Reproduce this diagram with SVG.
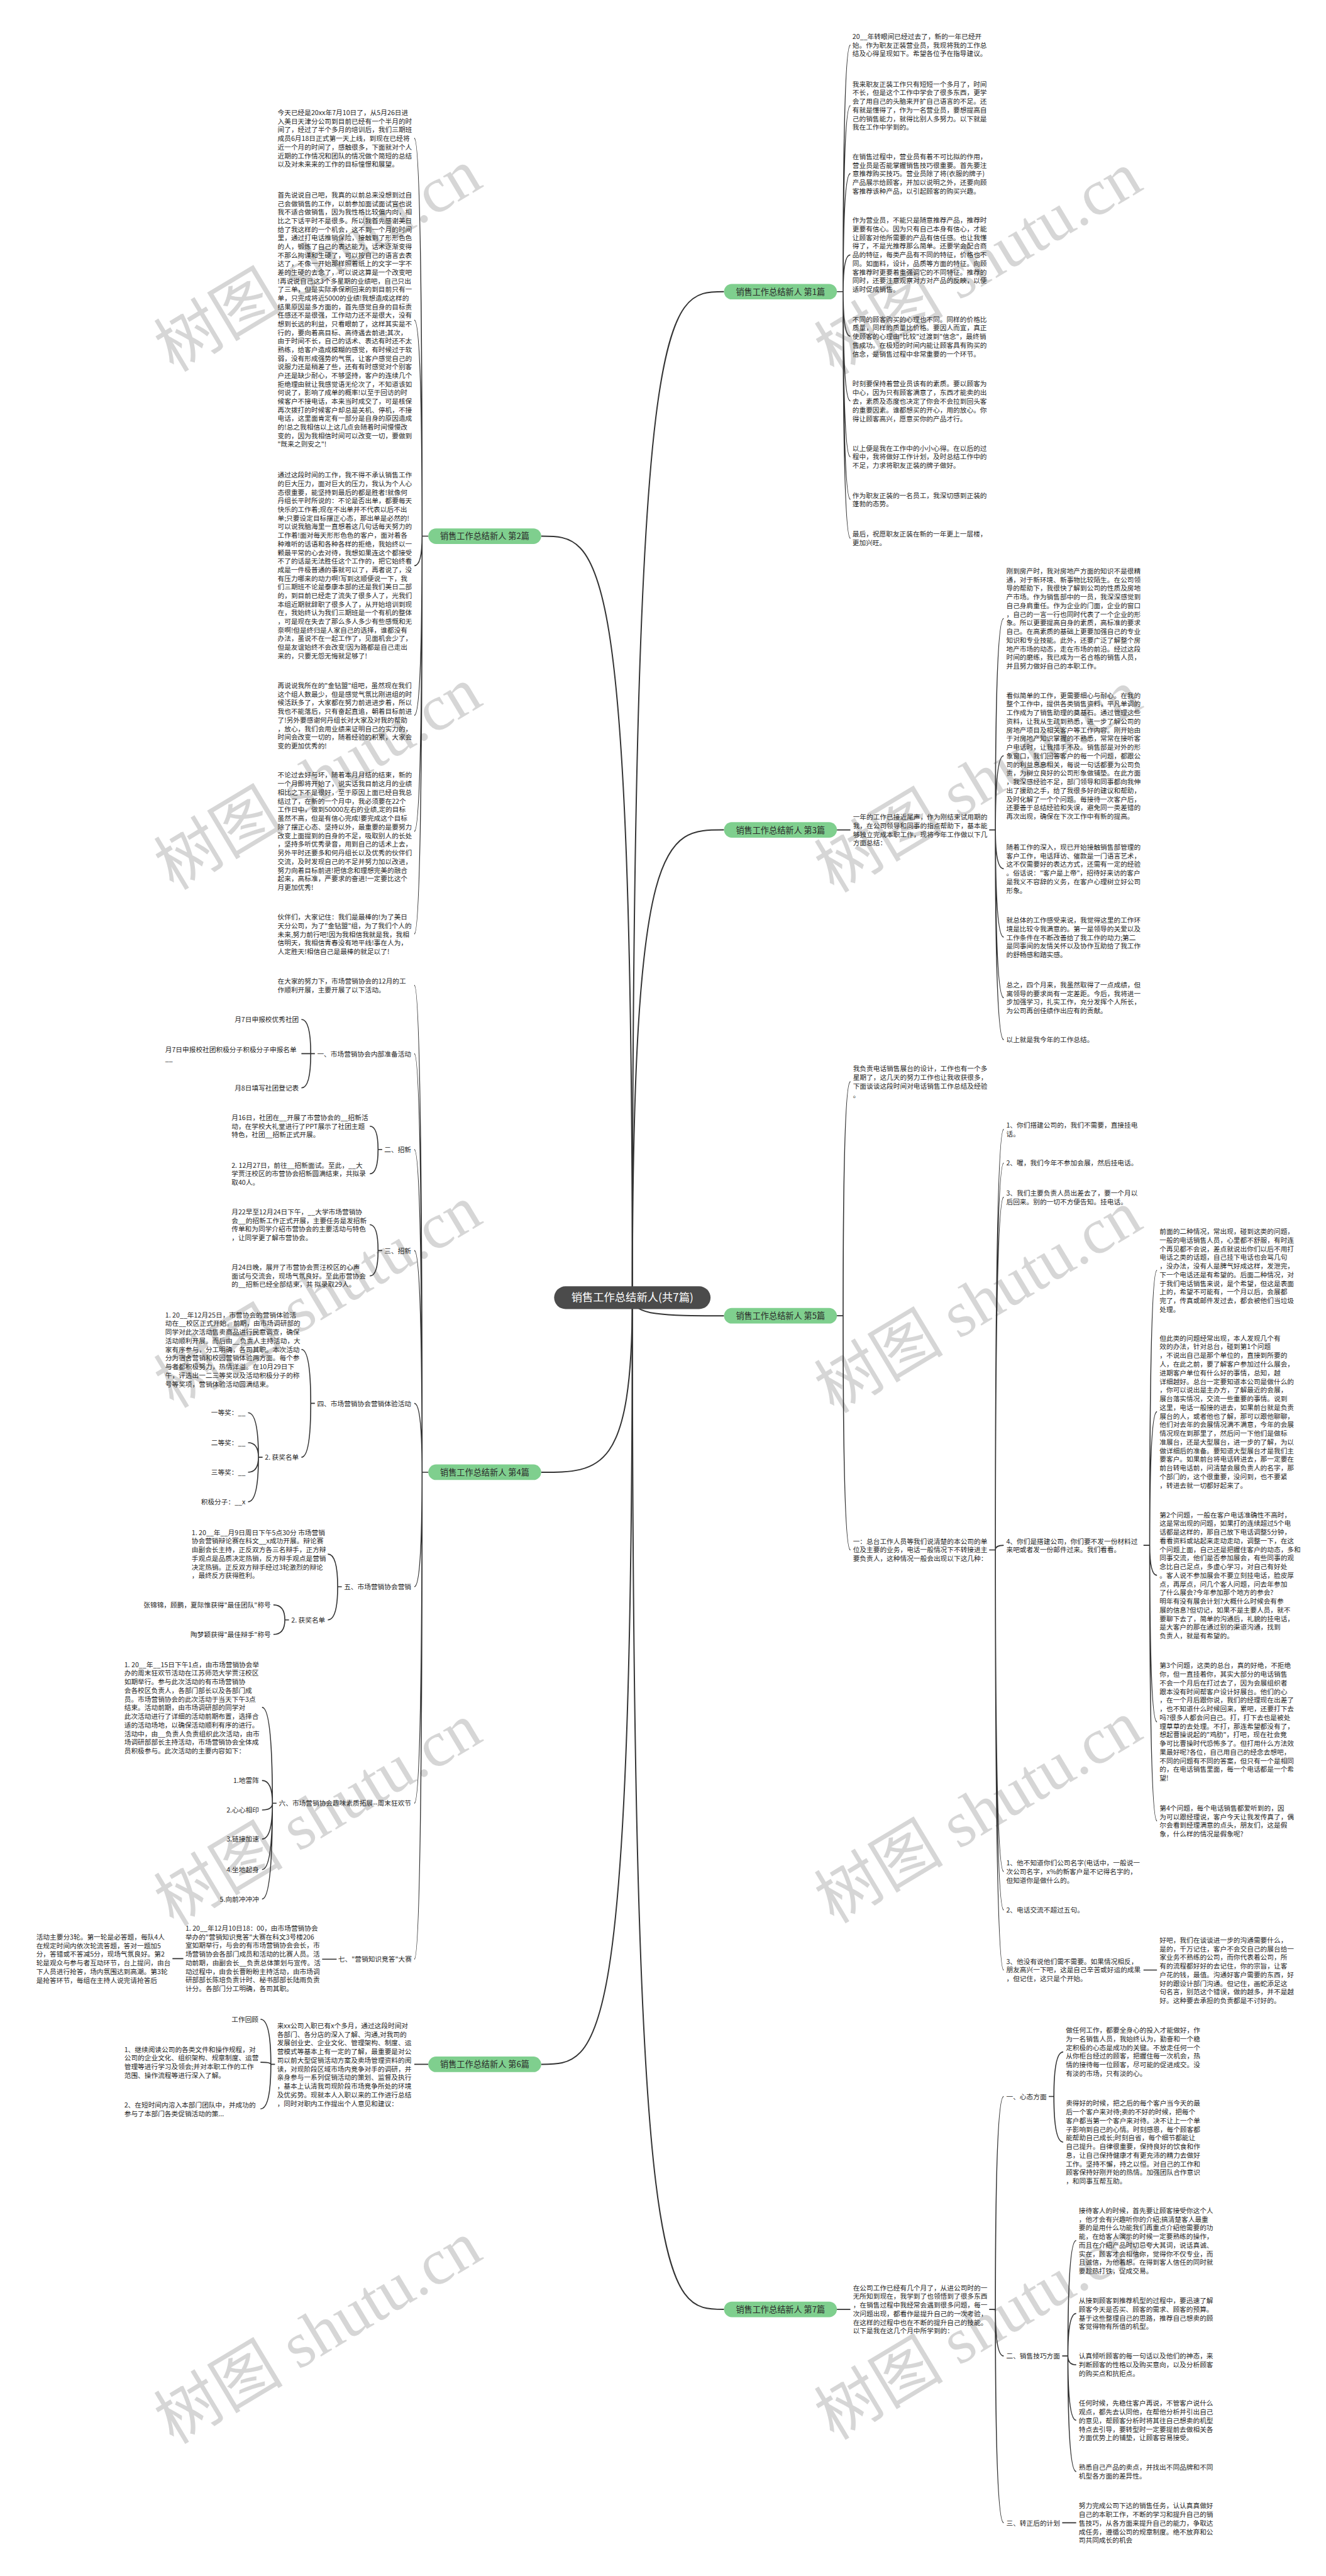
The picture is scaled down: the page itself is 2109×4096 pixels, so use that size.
<svg xmlns="http://www.w3.org/2000/svg" width="2109" height="4096" viewBox="0 0 2109 4096">
<style>
.t{font-family:"Noto Sans CJK SC","Liberation Sans",sans-serif;font-size:13px;fill:#262626}
.e{text-anchor:end}
.n{font-family:"Noto Sans CJK SC","Liberation Sans",sans-serif;font-size:16px;fill:#2a2a2a;text-anchor:middle}
.c{font-family:"Noto Sans CJK SC","Liberation Sans",sans-serif;font-size:21px;fill:#ffffff;text-anchor:middle}
.pill{fill:#7fcf8e}
.ln{fill:none;stroke:#333333;stroke-width:2}
.mn{fill:none;stroke:#333333;stroke-width:2.4}
.wm{font-family:"Liberation Serif","Noto Sans CJK SC",serif;font-size:125px;fill:#d6d6d6}
</style>
<rect width="2109" height="4096" fill="#ffffff"/>
<g transform="scale(0.8237)">
<g id="watermarks">
<text class="wm" transform="translate(335,720) rotate(-31)">树图 shutu.cn</text>
<text class="wm" transform="translate(335,1720) rotate(-31)">树图 shutu.cn</text>
<text class="wm" transform="translate(335,2720) rotate(-31)">树图 shutu.cn</text>
<text class="wm" transform="translate(335,3720) rotate(-31)">树图 shutu.cn</text>
<text class="wm" transform="translate(335,4720) rotate(-31)">树图 shutu.cn</text>
<text class="wm" transform="translate(1610,725) rotate(-31)">树图 shutu.cn</text>
<text class="wm" transform="translate(1610,1725) rotate(-31)">树图 shutu.cn</text>
<text class="wm" transform="translate(1610,2730) rotate(-31)">树图 shutu.cn</text>
<text class="wm" transform="translate(1610,3715) rotate(-31)">树图 shutu.cn</text>
<text class="wm" transform="translate(1610,4712) rotate(-31)">树图 shutu.cn</text>
</g>
<g id="connectors">
<path class="mn" d="M1221 2505C1221 563 1283 563 1398 563"/>
<path class="mn" d="M1221 2505C1221 1602 1283 1602 1398 1602"/>
<path class="mn" d="M1221 2505C1221 2540 1283 2540 1398 2540"/>
<path class="mn" d="M1221 2505C1221 4458 1283 4458 1398 4458"/>
<path class="mn" d="M1221 2505C1221 1035 1159 1035 1045 1035"/>
<path class="mn" d="M1221 2505C1221 2842 1159 2842 1045 2842"/>
<path class="mn" d="M1221 2505C1221 3985 1159 3985 1045 3985"/>
<path class="ln" d="M1616 563H1628M1628 563Q1628 87 1642 87M1628 563Q1628 204 1642 204M1628 563Q1628 335 1642 335M1628 563Q1628 492 1642 492M1628 563Q1628 649 1642 649M1628 563Q1628 774 1642 774M1628 563Q1628 882 1642 882M1628 563Q1628 964 1642 964M1628 563Q1628 1039 1642 1039"/>
<path class="ln" d="M1616 1602H1642M1910 1602H1922M1922 1602Q1922 1194 1938 1194M1922 1602Q1922 1459 1938 1459M1922 1602Q1922 1677 1938 1677M1922 1602Q1922 1809 1938 1809M1922 1602Q1922 1926 1938 1926M1922 1602Q1922 2007 1938 2007"/>
<path class="ln" d="M1616 2540H1628M1628 2540Q1628 2088 1642 2088M1628 2540Q1628 2992 1642 2992"/>
<path class="ln" d="M1910 2992H1922M1922 2992Q1922 2180 1938 2180M1922 2992Q1922 2245 1938 2245M1922 2992Q1922 2311 1938 2311M1922 2992Q1922 2983 1938 2983M1922 2992Q1922 3613 1938 3613M1922 2992Q1922 3687 1938 3687M1922 2992Q1922 3803 1938 3803"/>
<path class="ln" d="M2208 2983H2220M2220 2983Q2220 2452 2234 2452M2220 2983Q2220 2725 2234 2725M2220 2983Q2220 3041 2234 3041M2220 2983Q2220 3324 2234 3324M2220 2983Q2220 3515 2234 3515M2208 3803H2234"/>
<path class="ln" d="M1616 4458H1642M1910 4458H1922M1922 4458Q1922 4047 1938 4047M1922 4458Q1922 4548 1938 4548M1922 4458Q1922 4870 1938 4870"/>
<path class="ln" d="M2025 4047H2035M2035 4047Q2035 3961 2053 3961M2035 4047Q2035 4135 2053 4135M2051 4548H2062M2062 4548Q2062 4325 2078 4325M2062 4548Q2062 4466 2078 4466M2062 4548Q2062 4565 2078 4565M2062 4548Q2062 4672 2078 4672M2062 4548Q2062 4771 2078 4771M2051 4870H2078"/>
<path class="ln" d="M827 1035H815M815 1035Q815 267 800 267M815 1035Q815 618 800 618M815 1035Q815 1092 800 1092M815 1035Q815 1381 800 1381M815 1035Q815 1605 800 1605M815 1035Q815 1803 800 1803"/>
<path class="ln" d="M827 2842H815M815 2842Q815 1902 800 1902M815 2842Q815 2034 800 2034M815 2842Q815 2219 800 2219M815 2842Q815 2414 800 2414M815 2842Q815 2709 800 2709M815 2842Q815 3063 800 3063M815 2842Q815 3481 800 3481M815 2842Q815 3782 800 3782"/>
<path class="ln" d="M608 2034H600M600 2034Q600 1968 582 1968M600 2034H582M600 2034Q600 2100 582 2100M738 2219H730M730 2219Q730 2174 714 2174M730 2219Q730 2266 714 2266M738 2414H730M730 2414Q730 2364 714 2364M730 2414Q730 2463 714 2463"/>
<path class="ln" d="M608 2709H600M600 2709Q600 2605 582 2605M600 2709Q600 2813 582 2813M507 2813H499M499 2813Q499 2727 479 2727M499 2813Q499 2785 479 2785M499 2813Q499 2842 479 2842M499 2813Q499 2899 479 2899"/>
<path class="ln" d="M660 3063H652M652 3063Q652 3000 633 3000M652 3063Q652 3127 633 3127M558 3127H550M550 3127Q550 3098 528 3098M550 3127Q550 3155 528 3155"/>
<path class="ln" d="M534 3481H526M526 3481Q526 3296 506 3296M526 3481Q526 3437 506 3437M526 3481Q526 3494 506 3494M526 3481Q526 3550 506 3550M526 3481Q526 3609 506 3609M526 3481Q526 3666 506 3666M650 3782H622M354 3781H333"/>
<path class="ln" d="M827 3985H800M531 3985H523M523 3985Q523 3898 503 3898M523 3985Q523 3981 503 3981M523 3985Q523 4071 503 4071"/>
</g>
<g id="center">
<rect x="1070" y="2483" width="302" height="44" rx="22" fill="#4b4b4b"/>
<text class="c" x="1221" y="2512">销售工作总结新人(共7篇)</text>
</g>
<g id="b1">
<rect class="pill" x="1398" y="548" width="218" height="30" rx="15"/>
<text class="n" x="1507" y="569">销售工作总结新人 第1篇</text>
<text class="t" x="1646" y="75"><tspan x="1646">20__年转眼间已经过去了，新的一年已经开</tspan><tspan x="1646" dy="16.7">始。作为职友正装营业员，我现将我的工作总</tspan><tspan x="1646" dy="16.7">结及心得呈现如下。希望各位予在指导建议。</tspan></text>
<text class="t" x="1646" y="167"><tspan x="1646">我来职友正装工作只有短短一个多月了，时间</tspan><tspan x="1646" dy="16.7">不长，但是这个工作中学会了很多东西，更学</tspan><tspan x="1646" dy="16.7">会了用自己的头脑来开扩自己语言的不足。还</tspan><tspan x="1646" dy="16.7">有就是懂得了，作为一名营业员，要想提高自</tspan><tspan x="1646" dy="16.7">己的销售能力，就得比别人多努力。以下就是</tspan><tspan x="1646" dy="16.7">我在工作中学到的。</tspan></text>
<text class="t" x="1646" y="307"><tspan x="1646">在销售过程中，营业员有着不可比拟的作用，</tspan><tspan x="1646" dy="16.7">营业员是否能掌握销售技巧很重要。首先要注</tspan><tspan x="1646" dy="16.7">意推荐购买技巧。营业员除了将(衣服的牌子)</tspan><tspan x="1646" dy="16.7">产品展示给顾客，并加以说明之外，还要向顾</tspan><tspan x="1646" dy="16.7">客推荐该种产品，以引起顾客的购买兴趣。</tspan></text>
<text class="t" x="1646" y="430"><tspan x="1646">作为营业员，不能只是随意推荐产品，推荐时</tspan><tspan x="1646" dy="16.7">更要有信心。因为只有自己本身有信心，才能</tspan><tspan x="1646" dy="16.7">让顾客对他所需要的产品有信任感。也让我懂</tspan><tspan x="1646" dy="16.7">得了，不是光推荐那么简单。还要学会配合商</tspan><tspan x="1646" dy="16.7">品的特征，每类产品有不同的特征，价格也不</tspan><tspan x="1646" dy="16.7">同。如面料，设计，品质等方面的特征。向顾</tspan><tspan x="1646" dy="16.7">客推荐时更要着重强调它的不同特征。推荐的</tspan><tspan x="1646" dy="16.7">同时，还要注意观察对方对产品的反映，以便</tspan><tspan x="1646" dy="16.7">适时促成销售。</tspan></text>
<text class="t" x="1646" y="621"><tspan x="1646">不同的顾客购买的心理也不同。同样的价格比</tspan><tspan x="1646" dy="16.7">质量，同样的质量比价格。要因人而宜，真正</tspan><tspan x="1646" dy="16.7">使顾客的心理由"比较"过渡到"信念"，最终销</tspan><tspan x="1646" dy="16.7">售成功。在极短的时间内能让顾客具有购买的</tspan><tspan x="1646" dy="16.7">信念，是销售过程中非常重要的一个环节。</tspan></text>
<text class="t" x="1646" y="746"><tspan x="1646">时刻要保持着营业员该有的素质。要以顾客为</tspan><tspan x="1646" dy="16.7">中心，因为只有顾客满意了，东西才能卖的出</tspan><tspan x="1646" dy="16.7">去，素质及态度也决定了你会不会拉到回头客</tspan><tspan x="1646" dy="16.7">的重要因素。谁都想买的开心，用的放心。你</tspan><tspan x="1646" dy="16.7">得让顾客高兴，愿意买你的产品才行。</tspan></text>
<text class="t" x="1646" y="870"><tspan x="1646">以上便是我在工作中的小小心得。在以后的过</tspan><tspan x="1646" dy="16.7">程中，我将做好工作计划，及时总结工作中的</tspan><tspan x="1646" dy="16.7">不足，力求将职友正装的牌子做好。</tspan></text>
<text class="t" x="1646" y="961"><tspan x="1646">作为职友正装的一名员工，我深切感到正装的</tspan><tspan x="1646" dy="16.7">蓬勃的态势。</tspan></text>
<text class="t" x="1646" y="1036"><tspan x="1646">最后，祝愿职友正装在新的一年更上一层楼，</tspan><tspan x="1646" dy="16.7">更加兴旺。</tspan></text>
</g>
<g id="b3">
<rect class="pill" x="1398" y="1587" width="218" height="30" rx="15"/>
<text class="n" x="1507" y="1608">销售工作总结新人 第3篇</text>
<text class="t" x="1647" y="1582"><tspan x="1647">一年的工作已接近尾声，作为刚结束试用期的</tspan><tspan x="1647" dy="16.7">我，在公司领导和同事的指点帮助下，基本能</tspan><tspan x="1647" dy="16.7">够独立完成本职工作，现将今年工作做以下几</tspan><tspan x="1647" dy="16.7">方面总结：</tspan></text>
<text class="t" x="1943" y="1107"><tspan x="1943">刚到房产时，我对房地产方面的知识不是很精</tspan><tspan x="1943" dy="16.7">通，对于新环境、新事物比较陌生。在公司领</tspan><tspan x="1943" dy="16.7">导的帮助下，我很快了解到公司的性质及房地</tspan><tspan x="1943" dy="16.7">产市场。作为销售部中的一员，我深深感觉到</tspan><tspan x="1943" dy="16.7">自己身肩重任。作为企业的门面，企业的窗口</tspan><tspan x="1943" dy="16.7">，自己的一言一行也同时代表了一个企业的形</tspan><tspan x="1943" dy="16.7">象。所以更要提高自身的素质，高标准的要求</tspan><tspan x="1943" dy="16.7">自己。在高素质的基础上更要加强自己的专业</tspan><tspan x="1943" dy="16.7">知识和专业技能。此外，还要广泛了解整个房</tspan><tspan x="1943" dy="16.7">地产市场的动态，走在市场的前沿。经过这段</tspan><tspan x="1943" dy="16.7">时间的磨练，我已成为一名合格的销售人员，</tspan><tspan x="1943" dy="16.7">并且努力做好自己的本职工作。</tspan></text>
<text class="t" x="1943" y="1347"><tspan x="1943">看似简单的工作，更需要细心与耐心。在我的</tspan><tspan x="1943" dy="16.7">整个工作中，提供各类销售资料，平凡单调的</tspan><tspan x="1943" dy="16.7">工作成为了销售助理的奠基石。通过管理这些</tspan><tspan x="1943" dy="16.7">资料，让我从生疏到熟悉，进一步了解公司的</tspan><tspan x="1943" dy="16.7">房地产项目及相关客户等工作内容。刚开始由</tspan><tspan x="1943" dy="16.7">于对房地产知识掌握的不熟悉，常常在接听客</tspan><tspan x="1943" dy="16.7">户电话时，让我措手不及。销售部是对外的形</tspan><tspan x="1943" dy="16.7">象窗口，我们回答客户的每一个问题，都跟公</tspan><tspan x="1943" dy="16.7">司的利益息息相关，每说一句话都要为公司负</tspan><tspan x="1943" dy="16.7">责，为树立良好的公司形象做铺垫。在此方面</tspan><tspan x="1943" dy="16.7">，我深感经验不足，部门领导和同事都向我伸</tspan><tspan x="1943" dy="16.7">出了援助之手，给了我很多好的建议和帮助，</tspan><tspan x="1943" dy="16.7">及时化解了一个个问题。每接待一次客户后，</tspan><tspan x="1943" dy="16.7">还要善于总结经验和失误，避免同一类差错的</tspan><tspan x="1943" dy="16.7">再次出现，确保在下次工作中有新的提高。</tspan></text>
<text class="t" x="1943" y="1640"><tspan x="1943">随着工作的深入，现已开始接触销售部管理的</tspan><tspan x="1943" dy="16.7">客户工作，电话拜访、催款是一门语言艺术，</tspan><tspan x="1943" dy="16.7">这不仅需要好的表达方式，还需有一定的经验</tspan><tspan x="1943" dy="16.7">。俗话说："客户是上帝"，招待好来访的客户</tspan><tspan x="1943" dy="16.7">是我义不容辞的义务，在客户心理树立好公司</tspan><tspan x="1943" dy="16.7">形象。</tspan></text>
<text class="t" x="1943" y="1781"><tspan x="1943">就总体的工作感受来说，我觉得这里的工作环</tspan><tspan x="1943" dy="16.7">境是比较令我满意的。第一是领导的关爱以及</tspan><tspan x="1943" dy="16.7">工作条件在不断改善给了我工作的动力;第二</tspan><tspan x="1943" dy="16.7">是同事间的友情关怀以及协作互助给了我工作</tspan><tspan x="1943" dy="16.7">的舒畅感和踏实感。</tspan></text>
<text class="t" x="1943" y="1906"><tspan x="1943">总之，四个月来，我虽然取得了一点成绩，但</tspan><tspan x="1943" dy="16.7">离领导的要求尚有一定差距。今后，我将进一</tspan><tspan x="1943" dy="16.7">步加强学习，扎实工作，充分发挥个人所长，</tspan><tspan x="1943" dy="16.7">为公司再创佳绩作出应有的贡献。</tspan></text>
<text class="t" x="1943" y="2012">以上就是我今年的工作总结。</text>
</g>
<g id="b5">
<rect class="pill" x="1398" y="2525" width="218" height="30" rx="15"/>
<text class="n" x="1507" y="2546">销售工作总结新人 第5篇</text>
<text class="t" x="1647" y="2068"><tspan x="1647">我负责电话销售展台的设计，工作也有一个多</tspan><tspan x="1647" dy="16.7">星期了，这几天的努力工作也让我收获很多，</tspan><tspan x="1647" dy="16.7">下面谈谈这段时间对电话销售工作总结及经验</tspan><tspan x="1647" dy="16.7">。</tspan></text>
<text class="t" x="1647" y="2980"><tspan x="1647">一：总台工作人员等我们说清楚的本公司的单</tspan><tspan x="1647" dy="16.7">位及主要的业务，电话一般情况下不转接进主</tspan><tspan x="1647" dy="16.7">要负责人，这种情况一般会出现以下这几种：</tspan></text>
<text class="t" x="1943" y="2177"><tspan x="1943">1、你们搭建公司的，我们不需要，直接挂电</tspan><tspan x="1943" dy="16.7">话。</tspan></text>
<text class="t" x="1943" y="2250">2、喔，我们今年不参加会展，然后挂电话。</text>
<text class="t" x="1943" y="2308"><tspan x="1943">3、我们主要负责人员出差去了，要一个月以</tspan><tspan x="1943" dy="16.7">后回来。别的一切不方便告知。挂电话。</tspan></text>
<text class="t" x="1943" y="2980"><tspan x="1943">4、你们是搭建公司，你们要不发一份材料过</tspan><tspan x="1943" dy="16.7">来吧或者发一份邮件过来。我们看看。</tspan></text>
<text class="t" x="1943" y="3601"><tspan x="1943">1、他不知道你们公司名字(电话中，一般说一</tspan><tspan x="1943" dy="16.7">次公司名字，x%的新客户是不记得名字的，</tspan><tspan x="1943" dy="16.7">但知道你是做什么的。</tspan></text>
<text class="t" x="1943" y="3692">2、电话交流不超过五句。</text>
<text class="t" x="1943" y="3791"><tspan x="1943">3、他没有说他们需不需要。如果情况相反，</tspan><tspan x="1943" dy="16.7">朋友高兴一下吧，这是自己辛苦或好运的成果</tspan><tspan x="1943" dy="16.7">，但记住，这只是个开始。</tspan></text>
<text class="t" x="2239" y="2382"><tspan x="2239">前面的二种情况，常出现，碰到这类的问题，</tspan><tspan x="2239" dy="16.7">一般的电话销售人员，心里都不舒服，有时连</tspan><tspan x="2239" dy="16.7">个再见都不会说，差点就说出你们以后不用打</tspan><tspan x="2239" dy="16.7">电话之类的话题，自己挂下电话也会骂几句</tspan><tspan x="2239" dy="16.7">，没办法，没有人是脾气好成这样，发泄完，</tspan><tspan x="2239" dy="16.7">下一个电话还是有希望的。后面二种情况，对</tspan><tspan x="2239" dy="16.7">于我们电话销售来说，是个希望，但这是表面</tspan><tspan x="2239" dy="16.7">上的，希望不可能有，一个月以后，会展都</tspan><tspan x="2239" dy="16.7">完了，传真或邮件发过去，都会被他们当垃圾</tspan><tspan x="2239" dy="16.7">处理。</tspan></text>
<text class="t" x="2239" y="2588"><tspan x="2239">但此类的问题经常出现，本人发现几个有</tspan><tspan x="2239" dy="16.7">效的办法，针对总台，碰到第1个问题</tspan><tspan x="2239" dy="16.7">，不说出自己是那个单位的，直接到所要的</tspan><tspan x="2239" dy="16.7">人，在此之前，要了解客户参加过什么展会，</tspan><tspan x="2239" dy="16.7">进期客户单位有什么好的事情，总知，越</tspan><tspan x="2239" dy="16.7">详细越好。总台一定要知道本公司是做什么的</tspan><tspan x="2239" dy="16.7">，你可以说出是主办方，了解最近的会展，</tspan><tspan x="2239" dy="16.7">展台落实情况，交流一些重要的事情。说到</tspan><tspan x="2239" dy="16.7">这里，电话一般接的进去，如果前台就是负责</tspan><tspan x="2239" dy="16.7">展台的人，或者他也了解，那可以跟他聊聊，</tspan><tspan x="2239" dy="16.7">他们对去年的会展情况满不满意，今年的会展</tspan><tspan x="2239" dy="16.7">情况现在到那里了，然后问一下他们是做标</tspan><tspan x="2239" dy="16.7">准展台，还是大型展台，进一步的了解，为以</tspan><tspan x="2239" dy="16.7">做详细后的准备。要知道大型展台才是我们主</tspan><tspan x="2239" dy="16.7">要客户。如果前台将电话转进去，那一定要在</tspan><tspan x="2239" dy="16.7">前台转电话前，问清楚会展负责人的名字，那</tspan><tspan x="2239" dy="16.7">个部门的，这个很重要，没问到，也不要紧</tspan><tspan x="2239" dy="16.7">，转进去就一切都好起来了。</tspan></text>
<text class="t" x="2239" y="2929"><tspan x="2239">第2个问题，一般在客户电话准确性不高时，</tspan><tspan x="2239" dy="16.7">这是常出现的问题，如果打的连续超过5个电</tspan><tspan x="2239" dy="16.7">话都是这样的，那自己放下电话调整5分钟，</tspan><tspan x="2239" dy="16.7">看看资料或站起来走动走动，调整一下，在这</tspan><tspan x="2239" dy="16.7">个问题上面，自己还是把握住客户的动态，多和</tspan><tspan x="2239" dy="16.7">同事交流，他们是否参加展会，有些同事的观</tspan><tspan x="2239" dy="16.7">念比自己足点，多虚心学习，对自己有好处</tspan><tspan x="2239" dy="16.7">。客人说不参加展会不要立刻挂电话，脸皮厚</tspan><tspan x="2239" dy="16.7">点，再厚点，问几个客人问题，问去年参加</tspan><tspan x="2239" dy="16.7">了什么展会?今年参加那个地方的参会?</tspan><tspan x="2239" dy="16.7">明年有没有展会计划?大概什么时候会有参</tspan><tspan x="2239" dy="16.7">展的信息?但切记，如果不是主要人员，就不</tspan><tspan x="2239" dy="16.7">要聊下去了，简单的沟通后，礼貌的挂电话，</tspan><tspan x="2239" dy="16.7">是大客户的那在通过别的渠道沟通，找到</tspan><tspan x="2239" dy="16.7">负责人，就是有希望的。</tspan></text>
<text class="t" x="2239" y="3220"><tspan x="2239">第3个问题，这类的总台，真的好绝，不拒绝</tspan><tspan x="2239" dy="16.7">你，但一直挂着你，其实大部分的电话销售</tspan><tspan x="2239" dy="16.7">不会一个月后在打过去了，因为会展组织者</tspan><tspan x="2239" dy="16.7">跟本没有时间帮客户设计好展台。他们的心</tspan><tspan x="2239" dy="16.7">，在一个月后跟你说，我们的经理现在出差了</tspan><tspan x="2239" dy="16.7">，也不知道什么时候回来，累吧，还要打下去</tspan><tspan x="2239" dy="16.7">吗?很多人都会问自己。打，打下去也是被处</tspan><tspan x="2239" dy="16.7">理草草的去处理。不打，那连希望都没有了，</tspan><tspan x="2239" dy="16.7">想起曹操说起的"鸡肋"，打吧，现在社会竞</tspan><tspan x="2239" dy="16.7">争可比曹操时代恐怖多了。但打用什么方法效</tspan><tspan x="2239" dy="16.7">果最好呢?各位，自己用自己的经念去想吧，</tspan><tspan x="2239" dy="16.7">不同的问题有不同的答案，但只有一个是相同</tspan><tspan x="2239" dy="16.7">的，在电话销售里面，每一个电话都是一个希</tspan><tspan x="2239" dy="16.7">望!</tspan></text>
<text class="t" x="2239" y="3495"><tspan x="2239">第4个问题，每个电话销售都爱听到的，因</tspan><tspan x="2239" dy="16.7">为可以跟经理说，客户今天让我发传真了，偶</tspan><tspan x="2239" dy="16.7">尔会看到经理满意的点头，朋友们，这是假</tspan><tspan x="2239" dy="16.7">象，什么样的情况是假象呢?</tspan></text>
<text class="t" x="2239" y="3750"><tspan x="2239">好吧，我们在谈谈进一步的沟通需要什么，</tspan><tspan x="2239" dy="16.7">是的，千万记住，客户不会交自己的展台给一</tspan><tspan x="2239" dy="16.7">家业务不熟练的公司，而你代表着公司，所</tspan><tspan x="2239" dy="16.7">有的流程都好好的去记住，你的宗旨，让客</tspan><tspan x="2239" dy="16.7">户花的钱，最值。沟通好客户需要的东西，好</tspan><tspan x="2239" dy="16.7">好的跟设计部门沟通。但记住，画蛇添足这</tspan><tspan x="2239" dy="16.7">句名言，别范这个错误，做的越多，并不是越</tspan><tspan x="2239" dy="16.7">好。这种要去承担的负责都是不讨好的。</tspan></text>
</g>
<g id="b7">
<rect class="pill" x="1398" y="4443" width="218" height="30" rx="15"/>
<text class="n" x="1507" y="4464">销售工作总结新人 第7篇</text>
<text class="t" x="1647" y="4421"><tspan x="1647">在公司工作已经有几个月了，从进公司时的一</tspan><tspan x="1647" dy="16.7">无所知到现在，我学到了也领悟到了很多东西</tspan><tspan x="1647" dy="16.7">，在销售过程中我经常会遇到很多问题，每一</tspan><tspan x="1647" dy="16.7">次问题出现，都看作是提升自己的一次考验，</tspan><tspan x="1647" dy="16.7">在这样的过程中也在不断的提升自己的技能。</tspan><tspan x="1647" dy="16.7">以下是我在这几个月中所学到的：</tspan></text>
<text class="t" x="1943" y="4052">一、心态方面</text>
<text class="t" x="2058" y="3924"><tspan x="2058">做任何工作，都要全身心的投入才能做好，作</tspan><tspan x="2058" dy="16.7">为一名销售人员，我始终认为，勤奋和一个稳</tspan><tspan x="2058" dy="16.7">定积极的心态是成功的关键。不放走任何一个</tspan><tspan x="2058" dy="16.7">从你柜台经过的顾客，把握住每一次机会，热</tspan><tspan x="2058" dy="16.7">情的接待每一位顾客，尽可能的促进成交。没</tspan><tspan x="2058" dy="16.7">有淡的市场，只有淡的心。</tspan></text>
<text class="t" x="2058" y="4065"><tspan x="2058">卖得好的时候，把之后的每个客户当今天的最</tspan><tspan x="2058" dy="16.7">后一个客户来对待;卖的不好的时候，把每个</tspan><tspan x="2058" dy="16.7">客户都当第一个客户来对待。决不让上一个单</tspan><tspan x="2058" dy="16.7">子影响到自己的心情。时刻感恩，每个顾客都</tspan><tspan x="2058" dy="16.7">能帮助自己成长;时刻自省，每个细节都能让</tspan><tspan x="2058" dy="16.7">自己提升。自律很重要，保持良好的饮食和作</tspan><tspan x="2058" dy="16.7">息，让自己保持健康才有更充沛的精力去做好</tspan><tspan x="2058" dy="16.7">工作。坚持不懈，持之以恒。对自己的工作和</tspan><tspan x="2058" dy="16.7">顾客保持好刚开始的热情。加强团队合作意识</tspan><tspan x="2058" dy="16.7">，和同事互帮互助。</tspan></text>
<text class="t" x="1943" y="4553">二、销售技巧方面</text>
<text class="t" x="2083" y="4272"><tspan x="2083">接待客人的时候，首先要让顾客接受你这个人</tspan><tspan x="2083" dy="16.7">，他才会有兴趣听你的介绍;搞清楚客人最重</tspan><tspan x="2083" dy="16.7">要的是用什么功能我们再重点介绍他需要的功</tspan><tspan x="2083" dy="16.7">能，在给客人演示的时候一定要熟练的操作，</tspan><tspan x="2083" dy="16.7">而且在介绍产品时切忌夸大其词，说话真诚、</tspan><tspan x="2083" dy="16.7">实在，顾客才会相信你，觉得你不仅专业，而</tspan><tspan x="2083" dy="16.7">且诚信，为他着想。在得到客人信任的同时就</tspan><tspan x="2083" dy="16.7">要趁热打铁，促成交易。</tspan></text>
<text class="t" x="2083" y="4446"><tspan x="2083">从接到顾客到推荐机型的过程中，要迅速了解</tspan><tspan x="2083" dy="16.7">顾客今天是否买、顾客的需求、顾客的预算。</tspan><tspan x="2083" dy="16.7">基于这些整理自己的思路，推荐自己想卖的顾</tspan><tspan x="2083" dy="16.7">客觉得物有所值的机型。</tspan></text>
<text class="t" x="2083" y="4553"><tspan x="2083">认真倾听顾客的每一句话以及他们的神态，来</tspan><tspan x="2083" dy="16.7">判断顾客的性格以及购买意向，以及分析顾客</tspan><tspan x="2083" dy="16.7">的购买点和抗拒点。</tspan></text>
<text class="t" x="2083" y="4644"><tspan x="2083">任何时候，先稳住客户再说，不管客户说什么</tspan><tspan x="2083" dy="16.7">观点，都先去认同他，在帮他分析并引出自己</tspan><tspan x="2083" dy="16.7">的意见，帮顾客分析时将其往自己想卖的机型</tspan><tspan x="2083" dy="16.7">特点去引导，要转型时一定要提前去做相关各</tspan><tspan x="2083" dy="16.7">方面优势上的铺垫，让顾客容易接受。</tspan></text>
<text class="t" x="2083" y="4768"><tspan x="2083">熟悉自己产品的卖点，并找出不同品牌和不同</tspan><tspan x="2083" dy="16.7">机型各方面的差异性。</tspan></text>
<text class="t" x="1943" y="4875">三、转正后的计划</text>
<text class="t" x="2083" y="4842"><tspan x="2083">努力完成公司下达的销售任务，认认真真做好</tspan><tspan x="2083" dy="16.7">自己的本职工作，不断的学习和提升自己的销</tspan><tspan x="2083" dy="16.7">售技巧，从各方面来提升自己的能力，争取达</tspan><tspan x="2083" dy="16.7">成任务，遵循公司的规章制度。绝不放弃和公</tspan><tspan x="2083" dy="16.7">司共同成长的机会</tspan></text>
</g>
<g id="b2">
<rect class="pill" x="827" y="1020" width="218" height="30" rx="15"/>
<text class="n" x="936" y="1041">销售工作总结新人 第2篇</text>
<text class="t" x="536" y="222"><tspan x="536">今天已经是20xx年7月10日了，从5月26日进</tspan><tspan x="536" dy="16.7">入美日天津分公司到目前已经有一个半月的时</tspan><tspan x="536" dy="16.7">间了，经过了半个多月的培训后，我们三期班</tspan><tspan x="536" dy="16.7">成员6月18日正式第一天上线，到现在已经将</tspan><tspan x="536" dy="16.7">近一个月的时间了，感触很多，下面就对个人</tspan><tspan x="536" dy="16.7">近期的工作情况和团队的情况做个简短的总结</tspan><tspan x="536" dy="16.7">以及对未来来的工作的目标憧憬和展望。</tspan></text>
<text class="t" x="536" y="381"><tspan x="536">首先说说自己吧，我真的以前总来没想到过自</tspan><tspan x="536" dy="16.6">己会做销售的工作，以前参加面试面试官也说</tspan><tspan x="536" dy="16.6">我不适合做销售，因为我性格比较偏内向，相</tspan><tspan x="536" dy="16.6">比之下话平时不是很多。所以我首先感谢美日</tspan><tspan x="536" dy="16.6">给了我这样的一个机会，这不到一个月的时间</tspan><tspan x="536" dy="16.6">里，通过打电话推销保险，接触到了形形色色</tspan><tspan x="536" dy="16.6">的人，锻炼了自己的表达能力，话术逐渐变得</tspan><tspan x="536" dy="16.6">不那么拘谨和生硬了，可以按自己的语言去表</tspan><tspan x="536" dy="16.6">达了，不像一开始那样照着纸上的文字一字不</tspan><tspan x="536" dy="16.6">差的生硬的去念了，可以说这算是一个改变吧</tspan><tspan x="536" dy="16.6">!再说说自己这3个多星期的业绩吧，自己只出</tspan><tspan x="536" dy="16.6">了三单，但是实际承保刷回来的到目前只有一</tspan><tspan x="536" dy="16.6">单，只完成将近5000的业绩!我想造成这样的</tspan><tspan x="536" dy="16.6">结果原因是多方面的，首先感觉自身的目标责</tspan><tspan x="536" dy="16.6">任感还不是很强，工作动力还不是很大，没有</tspan><tspan x="536" dy="16.6">想到长远的利益，只看眼前了，这样其实是不</tspan><tspan x="536" dy="16.6">行的，要向着高目标、高待遇去前进;其次，</tspan><tspan x="536" dy="16.6">由于时间不长，自己的话术、表达有时还不太</tspan><tspan x="536" dy="16.6">熟练，给客户造成模糊的感觉，有时候过于软</tspan><tspan x="536" dy="16.6">弱，没有形成强势的气氛，让客户感觉自己的</tspan><tspan x="536" dy="16.6">说服力还是稍差了些，还有有时感觉对个别客</tspan><tspan x="536" dy="16.6">户还是缺少耐心，不够坚持，客户的连续几个</tspan><tspan x="536" dy="16.6">拒绝理由就让我感觉语无伦次了，不知道该如</tspan><tspan x="536" dy="16.6">何说了，影响了成单的概率!以至于回访的时</tspan><tspan x="536" dy="16.6">候客户不接电话，本来当时成交了，可是核保</tspan><tspan x="536" dy="16.6">再次拨打的时候客户却总是关机、停机，不接</tspan><tspan x="536" dy="16.6">电话，这里面肯定有一部分是自身的原因造成</tspan><tspan x="536" dy="16.6">的!总之我相信以上这几点会随着时间慢慢改</tspan><tspan x="536" dy="16.6">变的，因为我相信时间可以改变一切，要做到</tspan><tspan x="536" dy="16.6">"既来之则安之"!</tspan></text>
<text class="t" x="536" y="922"><tspan x="536">通过这段时间的工作，我不得不承认销售工作</tspan><tspan x="536" dy="16.6">的巨大压力，面对巨大的压力，我认为个人心</tspan><tspan x="536" dy="16.6">态很重要，能坚持到最后的都是胜者!就像何</tspan><tspan x="536" dy="16.6">丹组长平时所说的：不论是否出单，都要每天</tspan><tspan x="536" dy="16.6">快乐的工作着;现在不出单并不代表以后不出</tspan><tspan x="536" dy="16.6">单;只要设定目标摆正心态，那出单是必然的!</tspan><tspan x="536" dy="16.6">可以说我脑海里一直想着这几句话每天努力的</tspan><tspan x="536" dy="16.6">工作着!面对每天形形色色的客户，面对着各</tspan><tspan x="536" dy="16.6">种难听的话语和各种各样的拒绝，我始终以一</tspan><tspan x="536" dy="16.6">颗最平常的心去对待，我想如果连这个都接受</tspan><tspan x="536" dy="16.6">不了的话是无法胜任这个工作的，把它始终看</tspan><tspan x="536" dy="16.6">成是一件极普通的事就可以了，再者说了，没</tspan><tspan x="536" dy="16.6">有压力哪来的动力啊!写到这顺便说一下，我</tspan><tspan x="536" dy="16.6">们三期班不论是泰康本部的还是我们美日二部</tspan><tspan x="536" dy="16.6">的，到目前已经走了流失了很多人了，光我们</tspan><tspan x="536" dy="16.6">本组近期就辞职了很多人了，从开始培训到现</tspan><tspan x="536" dy="16.6">在，我始终认为我们三期班是一个有机的整体</tspan><tspan x="536" dy="16.6">，可是现在失去了那么多人多少有些感慨和无</tspan><tspan x="536" dy="16.6">奈啊!但是终归是人家自己的选择，谁都没有</tspan><tspan x="536" dy="16.6">办法，虽说不在一起工作了，见面机会少了，</tspan><tspan x="536" dy="16.6">但是友谊始终不会改变!因为路都是自己走出</tspan><tspan x="536" dy="16.6">来的，只要无怨无悔就足够了!</tspan></text>
<text class="t" x="536" y="1328"><tspan x="536">再说说我所在的"金钻盟"组吧，虽然现在我们</tspan><tspan x="536" dy="16.7">这个组人数最少，但是感觉气氛比刚进组的时</tspan><tspan x="536" dy="16.7">候活跃多了，大家都在努力前进进步着，所以</tspan><tspan x="536" dy="16.7">我也不能落后，只有奋起直追，朝着目标前进</tspan><tspan x="536" dy="16.7">了!另外要感谢何丹组长对大家及对我的帮助</tspan><tspan x="536" dy="16.7">，放心，我们会用业绩来证明自己的实力的，</tspan><tspan x="536" dy="16.7">时间会改变一切的，随着经验的积累，大家会</tspan><tspan x="536" dy="16.7">变的更加优秀的!</tspan></text>
<text class="t" x="536" y="1501"><tspan x="536">不论过去好与坏，随着本月月结的结束，新的</tspan><tspan x="536" dy="16.7">一个月即将开始了，说实话我目前这月的业绩</tspan><tspan x="536" dy="16.7">相比之下不是很好，至于原因上面已经自我总</tspan><tspan x="536" dy="16.7">结过了，在新的一个月中，我必须要在22个</tspan><tspan x="536" dy="16.7">工作日中，做到50000左右的业绩,定的目标</tspan><tspan x="536" dy="16.7">虽然不高，但是有信心完成!要完成这个目标</tspan><tspan x="536" dy="16.7">除了摆正心态、坚持以外，最重要的是要努力</tspan><tspan x="536" dy="16.7">改变上面提到的自身的不足，吸取别人的长处</tspan><tspan x="536" dy="16.7">，坚持多听优秀录音，用到自己的话术上去，</tspan><tspan x="536" dy="16.7">另外平时还要多和何丹组长以及优秀的伙伴们</tspan><tspan x="536" dy="16.7">交流，及时发现自己的不足并努力加以改进，</tspan><tspan x="536" dy="16.7">努力向着目标前进!把信念和理想完美的融合</tspan><tspan x="536" dy="16.7">起来，高标准，严要求的奋进!一定要比这个</tspan><tspan x="536" dy="16.7">月更加优秀!</tspan></text>
<text class="t" x="536" y="1775"><tspan x="536">伙伴们，大家记住：我们是最棒的!为了美日</tspan><tspan x="536" dy="16.7">天分公司，为了"金钻盟"组，为了我们个人的</tspan><tspan x="536" dy="16.7">未来,努力前行吧!因为我相信我就是我，我相</tspan><tspan x="536" dy="16.7">信明天，我相信青春没有地平线!事在人为，</tspan><tspan x="536" dy="16.7">人定胜天!相信自己是最棒的就足以了!</tspan></text>
</g>
<g id="b4">
<rect class="pill" x="827" y="2827" width="218" height="30" rx="15"/>
<text class="n" x="936" y="2848">销售工作总结新人 第4篇</text>
<text class="t" x="536" y="1899"><tspan x="536">在大家的努力下，市场营销协会的12月的工</tspan><tspan x="536" dy="16.7">作顺利开展，主要开展了以下活动。</tspan></text>
<text class="t e" x="794" y="2039">一、市场营销协会内部准备活动</text>
<text class="t e" x="577" y="1973">月7日申报校优秀社团</text>
<text class="t" x="319" y="2031"><tspan x="319">月7日申报校社团积极分子积极分子申报名单</tspan><tspan x="319" dy="16.7">__</tspan></text>
<text class="t e" x="577" y="2105">月8日填写社团登记表</text>
<text class="t e" x="794" y="2224">二、招新</text>
<text class="t" x="447" y="2162"><tspan x="447">月16日，社团在__开展了市营协会的__招新活</tspan><tspan x="447" dy="16.7">动，在学校大礼堂进行了PPT展示了社团主题</tspan><tspan x="447" dy="16.7">特色，社团__招新正式开展。</tspan></text>
<text class="t" x="447" y="2254"><tspan x="447">2. 12月27日，前往__招新面试。至此，__大</tspan><tspan x="447" dy="16.7">学贾汪校区的市营协会招新圆满结束，共拟录</tspan><tspan x="447" dy="16.7">取40人。</tspan></text>
<text class="t e" x="794" y="2419">三、招新</text>
<text class="t" x="447" y="2344"><tspan x="447">月22早至12月24日下午，__大学市场营销协</tspan><tspan x="447" dy="16.7">会__的招新工作正式开展，主要任务是发招新</tspan><tspan x="447" dy="16.7">传单和为同学介绍市营协会的主要活动与特色</tspan><tspan x="447" dy="16.7">，让同学更了解市营协会。</tspan></text>
<text class="t" x="447" y="2451"><tspan x="447">月24日晚，展开了市营协会贾汪校区的心声</tspan><tspan x="447" dy="16.7">面试与交流会，现场气氛良好。至此市营协会</tspan><tspan x="447" dy="16.7">的__招新已经全部结束，共 拟录取29人。</tspan></text>
<text class="t e" x="794" y="2714">四、市场营销协会营销体验活动</text>
<text class="t" x="319" y="2543"><tspan x="319">1. 20__年12月25日，市营协会的营销体验活</tspan><tspan x="319" dy="16.7">动在__校区正式开始。前期，由市场调研部的</tspan><tspan x="319" dy="16.7">同学对此次活动售卖商品进行民意调查，确保</tspan><tspan x="319" dy="16.7">活动顺利开展。而后由__负责人主持活动，大</tspan><tspan x="319" dy="16.7">家有序参与，分工明确，各司其职。本次活动</tspan><tspan x="319" dy="16.7">分为宿舍营销和校园营销体验两方面。每个参</tspan><tspan x="319" dy="16.7">与者都积极努力，热情洋溢。在10月29日下</tspan><tspan x="319" dy="16.7">午，评选出一二三等奖以及活动积极分子的称</tspan><tspan x="319" dy="16.7">号等奖项，营销体验活动圆满结束。</tspan></text>
<text class="t e" x="577" y="2818">2. 获奖名单</text>
<text class="t e" x="474" y="2732">一等奖：__</text>
<text class="t e" x="474" y="2790">二等奖：__</text>
<text class="t e" x="474" y="2847">三等奖：__</text>
<text class="t e" x="474" y="2904">积极分子：__x</text>
<text class="t e" x="794" y="3068">五、市场营销协会营销</text>
<text class="t" x="370" y="2963"><tspan x="370">1. 20__年__月9日周日下午5点30分 市场营销</tspan><tspan x="370" dy="16.7">协会营销辩论赛在科文__x成功开展。辩论赛</tspan><tspan x="370" dy="16.7">由副会长主持，正反双方各三名辩手，正方辩</tspan><tspan x="370" dy="16.7">手观点是品质决定热销，反方辩手观点是营销</tspan><tspan x="370" dy="16.7">决定热销。正反双方辩手经过3轮激烈的辩论</tspan><tspan x="370" dy="16.7">，最终反方获得胜利。</tspan></text>
<text class="t e" x="628" y="3132">2. 获奖名单</text>
<text class="t e" x="523" y="3103">张锦锦，顾鹏，夏际惟获得"最佳团队"称号</text>
<text class="t e" x="523" y="3160">陶梦颖获得"最佳辩手"称号</text>
<text class="t e" x="794" y="3486">六、市场营销协会趣味素质拓展--周末狂欢节</text>
<text class="t" x="240" y="3218"><tspan x="240">1. 20__年__15日下午1点，由市场营销协会举</tspan><tspan x="240" dy="16.7">办的周末狂欢节活动在江苏师范大学贾汪校区</tspan><tspan x="240" dy="16.7">如期举行。参与此次活动的有市场营销协</tspan><tspan x="240" dy="16.7">会各校区负责人，各部门部长以及各部门成</tspan><tspan x="240" dy="16.7">员。市场营销协会的此次活动于当天下午3点</tspan><tspan x="240" dy="16.7">结束。活动前期，由市场调研部的同学对</tspan><tspan x="240" dy="16.7">此次活动进行了详细的活动前期布置，选择合</tspan><tspan x="240" dy="16.7">适的活动场地，以确保活动顺利有序的进行。</tspan><tspan x="240" dy="16.7">活动中，由__负责人负责组织此次活动，由市</tspan><tspan x="240" dy="16.7">场调研部部长主持活动，市场营销协会全体成</tspan><tspan x="240" dy="16.7">员积极参与。此次活动的主要内容如下：</tspan></text>
<text class="t e" x="500" y="3442">1.地雷阵</text>
<text class="t e" x="500" y="3499">2.心心相印</text>
<text class="t e" x="500" y="3555">3.链接加速</text>
<text class="t e" x="500" y="3614">4.坐地起身</text>
<text class="t e" x="500" y="3671">5.向前冲冲冲</text>
<text class="t e" x="795" y="3787">七、"营销知识竞答"大赛</text>
<text class="t" x="358" y="3727"><tspan x="358">1. 20__年12月10日18：00，由市场营销协会</tspan><tspan x="358" dy="16.7">举办的"营销知识竞答"大赛在科文3号楼206</tspan><tspan x="358" dy="16.7">室如期举行，与会的有市场营销协会会长，市</tspan><tspan x="358" dy="16.7">场营销协会各部门成员和活动的比赛人员。活</tspan><tspan x="358" dy="16.7">动前期，由副会长__负责总体策划与宣传。活</tspan><tspan x="358" dy="16.7">动过程中，由会长曹盼盼主持活动，由市场调</tspan><tspan x="358" dy="16.7">研部部长陈培负责计时、秘书部部长陆雨负责</tspan><tspan x="358" dy="16.7">计分。各部门分工明确，各司其职。</tspan></text>
<text class="t" x="70" y="3744"><tspan x="70">活动主要分3轮。第一轮是必答题，每队4人</tspan><tspan x="70" dy="16.7">在规定时间内依次轮流答题，答对一题加5</tspan><tspan x="70" dy="16.7">分，答错或不答减5分，现场气氛良好。第2</tspan><tspan x="70" dy="16.7">轮是观众与参与者互动环节，台上提问，由台</tspan><tspan x="70" dy="16.7">下人员进行抢答，场内氛围达到高潮。第3轮</tspan><tspan x="70" dy="16.7">是抢答环节，每组在主持人说完请抢答后</tspan></text>
</g>
<g id="b6">
<rect class="pill" x="827" y="3970" width="218" height="30" rx="15"/>
<text class="n" x="936" y="3991">销售工作总结新人 第6篇</text>
<text class="t" x="535" y="3915"><tspan x="535">来xx公司入职已有x个多月，通过这段时间对</tspan><tspan x="535" dy="16.7">各部门、各分店的深入了解、沟通,对我司的</tspan><tspan x="535" dy="16.7">发展创业史、企业文化、管理架构、制度、运</tspan><tspan x="535" dy="16.7">营模式等基本上有一定的了解，最重要是对公</tspan><tspan x="535" dy="16.7">司以前大型促销活动方案及卖场管理资料的阅</tspan><tspan x="535" dy="16.7">读，对现阶段区域市场内竞争对手的调研，并</tspan><tspan x="535" dy="16.7">亲身参与一系列促销活动的策划、监督及执行</tspan><tspan x="535" dy="16.7">，基本上认清我司现阶段市场竞争所处的环境</tspan><tspan x="535" dy="16.7">及优劣势。现就本人入职以来的工作进行总结</tspan><tspan x="535" dy="16.7">，同时对职内工作提出个人意见和建议：</tspan></text>
<text class="t e" x="499" y="3903">工作回顾</text>
<text class="t" x="240" y="3961"><tspan x="240">1、继续阅读公司的各类文件和操作规程，对</tspan><tspan x="240" dy="16.7">公司的企业文化、组织架构、规章制度、运营</tspan><tspan x="240" dy="16.7">管理等进行学习及领会;并对本职工作的工作</tspan><tspan x="240" dy="16.7">范围、操作流程等进行深入了解。</tspan></text>
<text class="t" x="240" y="4068"><tspan x="240">2、在短时间内溶入本部门团队中，并成功的</tspan><tspan x="240" dy="16.7">参与了本部门各类促销活动的策...</tspan></text>
</g>
</g>
</svg>
